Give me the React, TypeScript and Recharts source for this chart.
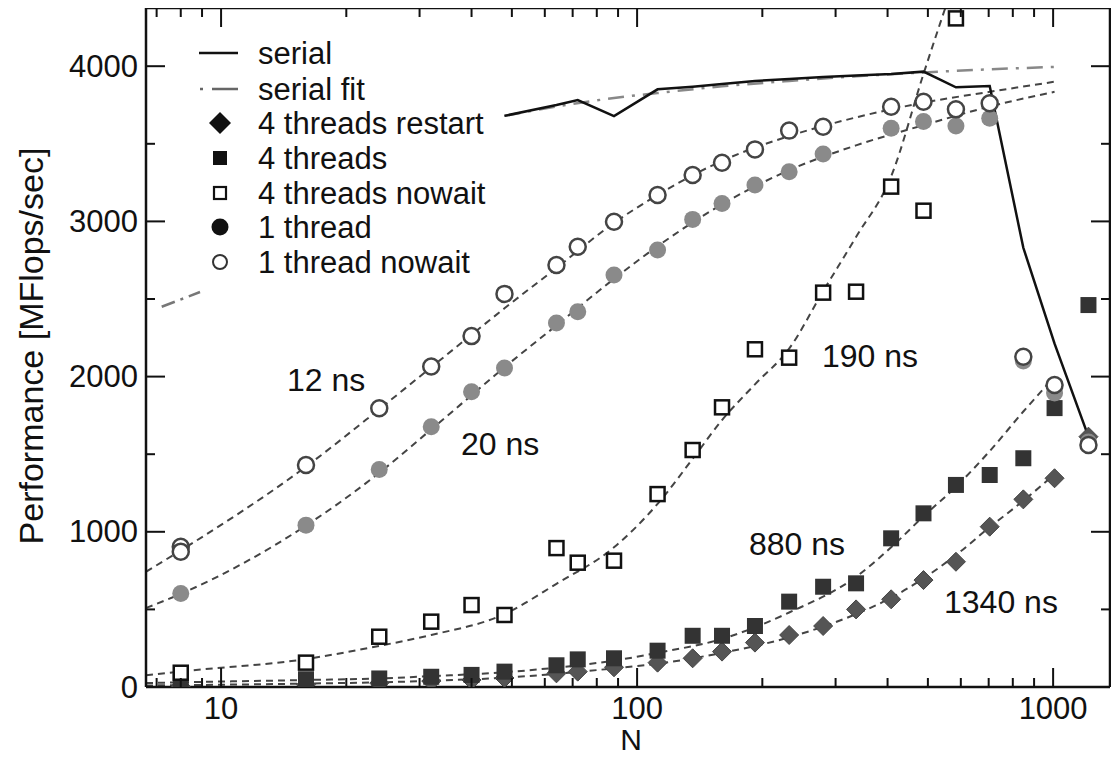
import React from 'react';
import { ComposedChart, Line, Scatter, XAxis, YAxis } from 'recharts';

// ---------- data (N = matrix size, v = MFlops/sec) ----------
const serialData = [
  { n: 48, v: 3680 }, { n: 64, v: 3750 }, { n: 72, v: 3782 }, { n: 88, v: 3679 },
  { n: 112, v: 3851 }, { n: 136, v: 3868 }, { n: 160, v: 3885 }, { n: 192, v: 3905 },
  { n: 232, v: 3918 }, { n: 280, v: 3930 }, { n: 336, v: 3940 }, { n: 408, v: 3950 },
  { n: 488, v: 3965 }, { n: 584, v: 3864 }, { n: 704, v: 3872 }, { n: 848, v: 2830 },
  { n: 1008, v: 2212 }, { n: 1216, v: 1613 },
];
const serialFitLeft = [{ n: 7.2, v: 2450 }, { n: 8.9, v: 2545 }];
const serialFitRight = [
  { n: 48, v: 3680 }, { n: 64, v: 3740 }, { n: 88, v: 3795 }, { n: 112, v: 3827 },
  { n: 160, v: 3870 }, { n: 232, v: 3905 }, { n: 336, v: 3935 }, { n: 488, v: 3960 },
  { n: 704, v: 3980 }, { n: 1008, v: 3995 },
];
const restart4 = [
  { n: 8, v: 5 }, { n: 16, v: 15 }, { n: 24, v: 25 }, { n: 32, v: 38 }, { n: 40, v: 45 },
  { n: 48, v: 58 }, { n: 64, v: 88 }, { n: 72, v: 99 }, { n: 88, v: 127 }, { n: 112, v: 157 },
  { n: 136, v: 185 }, { n: 160, v: 228 }, { n: 192, v: 286 }, { n: 232, v: 335 },
  { n: 280, v: 393 }, { n: 336, v: 500 }, { n: 408, v: 565 }, { n: 488, v: 689 },
  { n: 584, v: 807 }, { n: 704, v: 1033 }, { n: 848, v: 1209 }, { n: 1008, v: 1345 },
  { n: 1216, v: 1613 },
];
const threads4 = [
  { n: 8, v: 32 }, { n: 16, v: 50 }, { n: 24, v: 55 }, { n: 32, v: 66 }, { n: 40, v: 78 },
  { n: 48, v: 99 }, { n: 64, v: 140 }, { n: 72, v: 178 }, { n: 88, v: 185 }, { n: 112, v: 234 },
  { n: 136, v: 330 }, { n: 160, v: 330 }, { n: 192, v: 393 }, { n: 232, v: 550 },
  { n: 280, v: 646 }, { n: 336, v: 668 }, { n: 408, v: 958 }, { n: 488, v: 1119 },
  { n: 584, v: 1302 }, { n: 704, v: 1366 }, { n: 848, v: 1474 }, { n: 1008, v: 1797 },
  { n: 1216, v: 2461 },
];
const nowait4 = [
  { n: 8, v: 92 }, { n: 16, v: 157 }, { n: 24, v: 324 }, { n: 32, v: 421 }, { n: 40, v: 528 },
  { n: 48, v: 464 }, { n: 64, v: 895 }, { n: 72, v: 801 }, { n: 88, v: 814 }, { n: 112, v: 1243 },
  { n: 136, v: 1527 }, { n: 160, v: 1802 }, { n: 192, v: 2176 }, { n: 232, v: 2122 },
  { n: 280, v: 2541 }, { n: 336, v: 2547 }, { n: 408, v: 3224 }, { n: 488, v: 3069 },
  { n: 584, v: 4308 },
];
const thread1 = [
  { n: 8, v: 602 }, { n: 16, v: 1043 }, { n: 24, v: 1402 }, { n: 32, v: 1677 }, { n: 40, v: 1903 },
  { n: 48, v: 2055 }, { n: 64, v: 2345 }, { n: 72, v: 2418 }, { n: 88, v: 2655 }, { n: 112, v: 2816 },
  { n: 136, v: 3013 }, { n: 160, v: 3116 }, { n: 192, v: 3235 }, { n: 232, v: 3320 },
  { n: 280, v: 3434 }, { n: 408, v: 3600 }, { n: 488, v: 3643 }, { n: 584, v: 3615 },
  { n: 704, v: 3664 }, { n: 848, v: 2100 }, { n: 1008, v: 1894 }, { n: 1216, v: 1578 },
];
const nowait1 = [
  { n: 8, v: 903 }, { n: 8, v: 872 }, { n: 16, v: 1430 }, { n: 24, v: 1796 }, { n: 32, v: 2065 },
  { n: 40, v: 2261 }, { n: 48, v: 2533 }, { n: 64, v: 2719 }, { n: 72, v: 2837 }, { n: 88, v: 2998 },
  { n: 112, v: 3170 }, { n: 136, v: 3299 }, { n: 160, v: 3378 }, { n: 192, v: 3464 },
  { n: 232, v: 3585 }, { n: 280, v: 3610 }, { n: 408, v: 3739 }, { n: 488, v: 3771 },
  { n: 584, v: 3722 }, { n: 704, v: 3761 }, { n: 848, v: 2128 }, { n: 1008, v: 1946 },
  { n: 1216, v: 1559 },
];
// fitted curves
const fit12 = [
  { n: 6.6, v: 743 }, { n: 8, v: 880 }, { n: 16, v: 1420 }, { n: 24, v: 1790 }, { n: 32, v: 2060 },
  { n: 40, v: 2270 }, { n: 48, v: 2440 }, { n: 64, v: 2700 }, { n: 88, v: 2990 }, { n: 112, v: 3170 },
  { n: 160, v: 3390 }, { n: 232, v: 3550 }, { n: 336, v: 3670 }, { n: 488, v: 3765 },
  { n: 704, v: 3835 }, { n: 1008, v: 3900 },
];
const fit20 = [
  { n: 6.6, v: 509 }, { n: 8, v: 600 }, { n: 16, v: 1040 }, { n: 24, v: 1380 }, { n: 32, v: 1660 },
  { n: 40, v: 1880 }, { n: 48, v: 2060 }, { n: 64, v: 2330 }, { n: 88, v: 2630 }, { n: 112, v: 2840 },
  { n: 160, v: 3110 }, { n: 232, v: 3330 }, { n: 336, v: 3490 }, { n: 488, v: 3620 },
  { n: 704, v: 3740 }, { n: 1008, v: 3835 },
];
const fit190 = [
  { n: 6.6, v: 75 }, { n: 8, v: 100 }, { n: 16, v: 180 }, { n: 24, v: 265 }, { n: 32, v: 335 },
  { n: 48, v: 470 }, { n: 64, v: 665 }, { n: 88, v: 900 }, { n: 112, v: 1180 }, { n: 136, v: 1470 },
  { n: 160, v: 1720 }, { n: 192, v: 1950 }, { n: 232, v: 2180 }, { n: 280, v: 2550 },
  { n: 336, v: 2900 }, { n: 408, v: 3290 }, { n: 488, v: 3950 }, { n: 584, v: 4580 },
];
const fit880 = [
  { n: 6.6, v: 25 }, { n: 8, v: 30 }, { n: 16, v: 45 }, { n: 24, v: 55 }, { n: 32, v: 70 },
  { n: 48, v: 95 }, { n: 64, v: 125 }, { n: 88, v: 170 }, { n: 112, v: 220 }, { n: 160, v: 310 },
  { n: 232, v: 480 }, { n: 336, v: 710 }, { n: 408, v: 900 }, { n: 488, v: 1100 },
  { n: 584, v: 1290 }, { n: 704, v: 1520 }, { n: 848, v: 1775 }, { n: 1008, v: 2000 },
];
const fit1340 = [
  { n: 6.6, v: 10 }, { n: 8, v: 12 }, { n: 16, v: 22 }, { n: 24, v: 30 }, { n: 32, v: 40 },
  { n: 48, v: 60 }, { n: 64, v: 85 }, { n: 88, v: 120 }, { n: 112, v: 150 }, { n: 160, v: 220 },
  { n: 232, v: 320 }, { n: 336, v: 470 }, { n: 408, v: 575 }, { n: 488, v: 700 },
  { n: 584, v: 850 }, { n: 704, v: 1030 }, { n: 848, v: 1200 }, { n: 1008, v: 1370 },
];

// ---------- ticks & labels ----------
const xTicks = [7, 8, 9, 10, 20, 30, 40, 50, 60, 70, 80, 90, 100, 200, 300, 400, 500, 600, 700, 800, 900, 1000];
const xTickLabels = [10, 100, 1000];
const yTicks = [0, 500, 1000, 1500, 2000, 2500, 3000, 3500, 4000];
const yTickLabels = [0, 1000, 2000, 3000, 4000];
const annotations = [
  { text: '12 ns', x: 287, y: 391 },
  { text: '20 ns', x: 461, y: 455 },
  { text: '190 ns', x: 822, y: 367 },
  { text: '880 ns', x: 749, y: 555 },
  { text: '1340 ns', x: 944, y: 613 },
];
const legendLabels = ['serial', 'serial fit', '4 threads restart', '4 threads', '4 threads nowait', '1 thread', '1 thread nowait'];

// ---------- layout / style ----------
const W = 1119;
const H = 759;
const PL = 146, PR = 1110, PT = 8, PB = 687;
const FONT = '"Liberation Sans", Arial, Helvetica, sans-serif';
const INK = '#111';
const FIT = { stroke: '#444', strokeWidth: 2, strokeDasharray: '7 5' };

const XTickBottom = (p: any) => {
  const major = xTickLabels.includes(p.payload.value);
  return (
    <g>
      <line x1={p.x} x2={p.x} y1={PB} y2={PB - (major ? 19 : 9)} stroke={INK} strokeWidth={2} />
      {major && (
        <text x={p.x} y={PB + 32} textAnchor="middle" fontSize={31} fontFamily={FONT} fill={INK}>
          {p.payload.value}
        </text>
      )}
    </g>
  );
};
const XTickTop = (p: any) => {
  const major = xTickLabels.includes(p.payload.value);
  return <line x1={p.x} x2={p.x} y1={PT} y2={PT + (major ? 19 : 9)} stroke={INK} strokeWidth={2} />;
};
const YTickLeft = (p: any) => {
  const major = yTickLabels.includes(p.payload.value);
  return (
    <g>
      <line x1={PL} x2={PL + (major ? 19 : 9)} y1={p.y} y2={p.y} stroke={INK} strokeWidth={2} />
      {major && (
        <text x={PL - 8} y={p.y} textAnchor="end" dominantBaseline="central" fontSize={31} fontFamily={FONT} fill={INK}>
          {p.payload.value}
        </text>
      )}
    </g>
  );
};
const YTickRight = (p: any) => {
  const major = yTickLabels.includes(p.payload.value);
  return <line x1={PR} x2={PR - (major ? 19 : 9)} y1={p.y} y2={p.y} stroke={INK} strokeWidth={2} />;
};

const diamond = (cx: number, cy: number, r: number) =>
  `M${cx},${cy - r}L${cx + r},${cy}L${cx},${cy + r}L${cx - r},${cy}Z`;

const DiamondShape = (p: any) => <path d={diamond(p.cx, p.cy, 9.5)} fill="#555" stroke="#444" strokeWidth={1} />;
const FilledSquare = (p: any) => <rect x={p.cx - 8} y={p.cy - 8} width={16} height={16} fill="#333" />;
const OpenSquare = (p: any) => (
  <rect x={p.cx - 7} y={p.cy - 7} width={14} height={14} fill="#fff" stroke={INK} strokeWidth={2.5} />
);
const FilledCircle = (p: any) => <circle cx={p.cx} cy={p.cy} r={8.5} fill="#8a8a8a" />;
const OpenCircle = (p: any) => <circle cx={p.cx} cy={p.cy} r={8} fill="#fff" stroke="#444" strokeWidth={2.5} />;

const axisLine = { stroke: INK, strokeWidth: 2.5 };

export default function App() {
  const common = { xAxisId: 'b', yAxisId: 'l', isAnimationActive: false } as any;
  const legendY = [53, 89, 123, 158, 193, 227, 262];
  return (
    <div style={{ position: 'relative', width: W, height: H, margin: '-8px 0 0 -8px', background: '#fff' }}>
      <ComposedChart width={W} height={H} margin={{ top: PT - 2, right: W - PR - 2, bottom: 0, left: 0 }}>
        <XAxis
          xAxisId="b" type="number" dataKey="n" scale="log" domain={[6.6, 1370]} allowDataOverflow
          ticks={xTicks} interval={0} height={H - PB} tickLine={false} axisLine={axisLine}
          tick={(p: any) => <XTickBottom {...p} />}
        />
        <XAxis
          xAxisId="t" orientation="top" type="number" dataKey="n" scale="log" domain={[6.6, 1370]} allowDataOverflow
          ticks={xTicks} interval={0} height={2} tickLine={false} axisLine={axisLine}
          tick={(p: any) => <XTickTop {...p} />}
        />
        <YAxis
          yAxisId="l" type="number" dataKey="v" domain={[0, 4375]} allowDataOverflow ticks={yTicks} interval={0}
          width={PL} tickLine={false} axisLine={axisLine} tick={(p: any) => <YTickLeft {...p} />}
        />
        <YAxis
          yAxisId="r" orientation="right" type="number" dataKey="v" domain={[0, 4375]} allowDataOverflow
          ticks={yTicks} interval={0} width={2} tickLine={false} axisLine={axisLine}
          tick={(p: any) => <YTickRight {...p} />}
        />

        {/* invisible series bound to the mirror axes so the top/right frame is drawn */}
        <Line xAxisId="t" yAxisId="r" isAnimationActive={false} data={serialData} dataKey="v" stroke="none" dot={false} legendType="none" />

        <Line {...common} data={fit12} dataKey="v" type="monotone" dot={false} {...FIT} />
        <Line {...common} data={fit20} dataKey="v" type="monotone" dot={false} {...FIT} />
        <Line {...common} data={fit190} dataKey="v" type="monotone" dot={false} {...FIT} />
        <Line {...common} data={fit880} dataKey="v" type="monotone" dot={false} {...FIT} />
        <Line {...common} data={fit1340} dataKey="v" type="monotone" dot={false} {...FIT} />
        <Line {...common} data={serialFitLeft} dataKey="v" type="linear" dot={false} stroke="#777" strokeWidth={2.5} strokeDasharray="14 6 3 6" />
        <Line {...common} data={serialFitRight} dataKey="v" type="monotone" dot={false} stroke="#888" strokeWidth={2.5} strokeDasharray="16 8 3 8" />
        <Line {...common} data={serialData} dataKey="v" type="linear" dot={false} stroke={INK} strokeWidth={2.5} />

        <Scatter {...common} data={restart4} dataKey="v" shape={(p: any) => <DiamondShape {...p} />} />
        <Scatter {...common} data={threads4} dataKey="v" shape={(p: any) => <FilledSquare {...p} />} />
        <Scatter {...common} data={nowait4} dataKey="v" shape={(p: any) => <OpenSquare {...p} />} />
        <Scatter {...common} data={thread1} dataKey="v" shape={(p: any) => <FilledCircle {...p} />} />
        <Scatter {...common} data={nowait1} dataKey="v" shape={(p: any) => <OpenCircle {...p} />} />
      </ComposedChart>

      <svg width={W} height={H} style={{ position: 'absolute', left: 0, top: 0, pointerEvents: 'none' }}>
        <g fontFamily={FONT} fill={INK}>
          {annotations.map((a) => (
            <text key={a.text} x={a.x} y={a.y} fontSize={32}>{a.text}</text>
          ))}
          <text x={631} y={750} fontSize={30} textAnchor="middle">N</text>
          <text x={43} y={346} fontSize={34} textAnchor="middle" transform="rotate(-90 43 346)">
            Performance [MFlops/sec]
          </text>
          {legendLabels.map((l, i) => (
            <text key={l} x={258} y={legendY[i]} fontSize={31} dominantBaseline="central">{l}</text>
          ))}
        </g>
        {/* legend samples */}
        <line x1={199} x2={238} y1={legendY[0]} y2={legendY[0]} stroke={INK} strokeWidth={2.5} />
        <line x1={200} x2={238} y1={legendY[1]} y2={legendY[1]} stroke="#666" strokeWidth={2.5} strokeDasharray="3 9 30" />
        <path d={diamond(220, legendY[2], 11)} fill={INK} />
        <rect x={213} y={legendY[3] - 7} width={14} height={14} fill={INK} />
        <rect x={214} y={legendY[4] - 6} width={12} height={12} fill="#fff" stroke={INK} strokeWidth={2.2} />
        <circle cx={220} cy={legendY[5]} r={8.5} fill={INK} />
        <circle cx={220} cy={legendY[6]} r={7} fill="#fff" stroke="#333" strokeWidth={2} />
      </svg>
    </div>
  );
}
